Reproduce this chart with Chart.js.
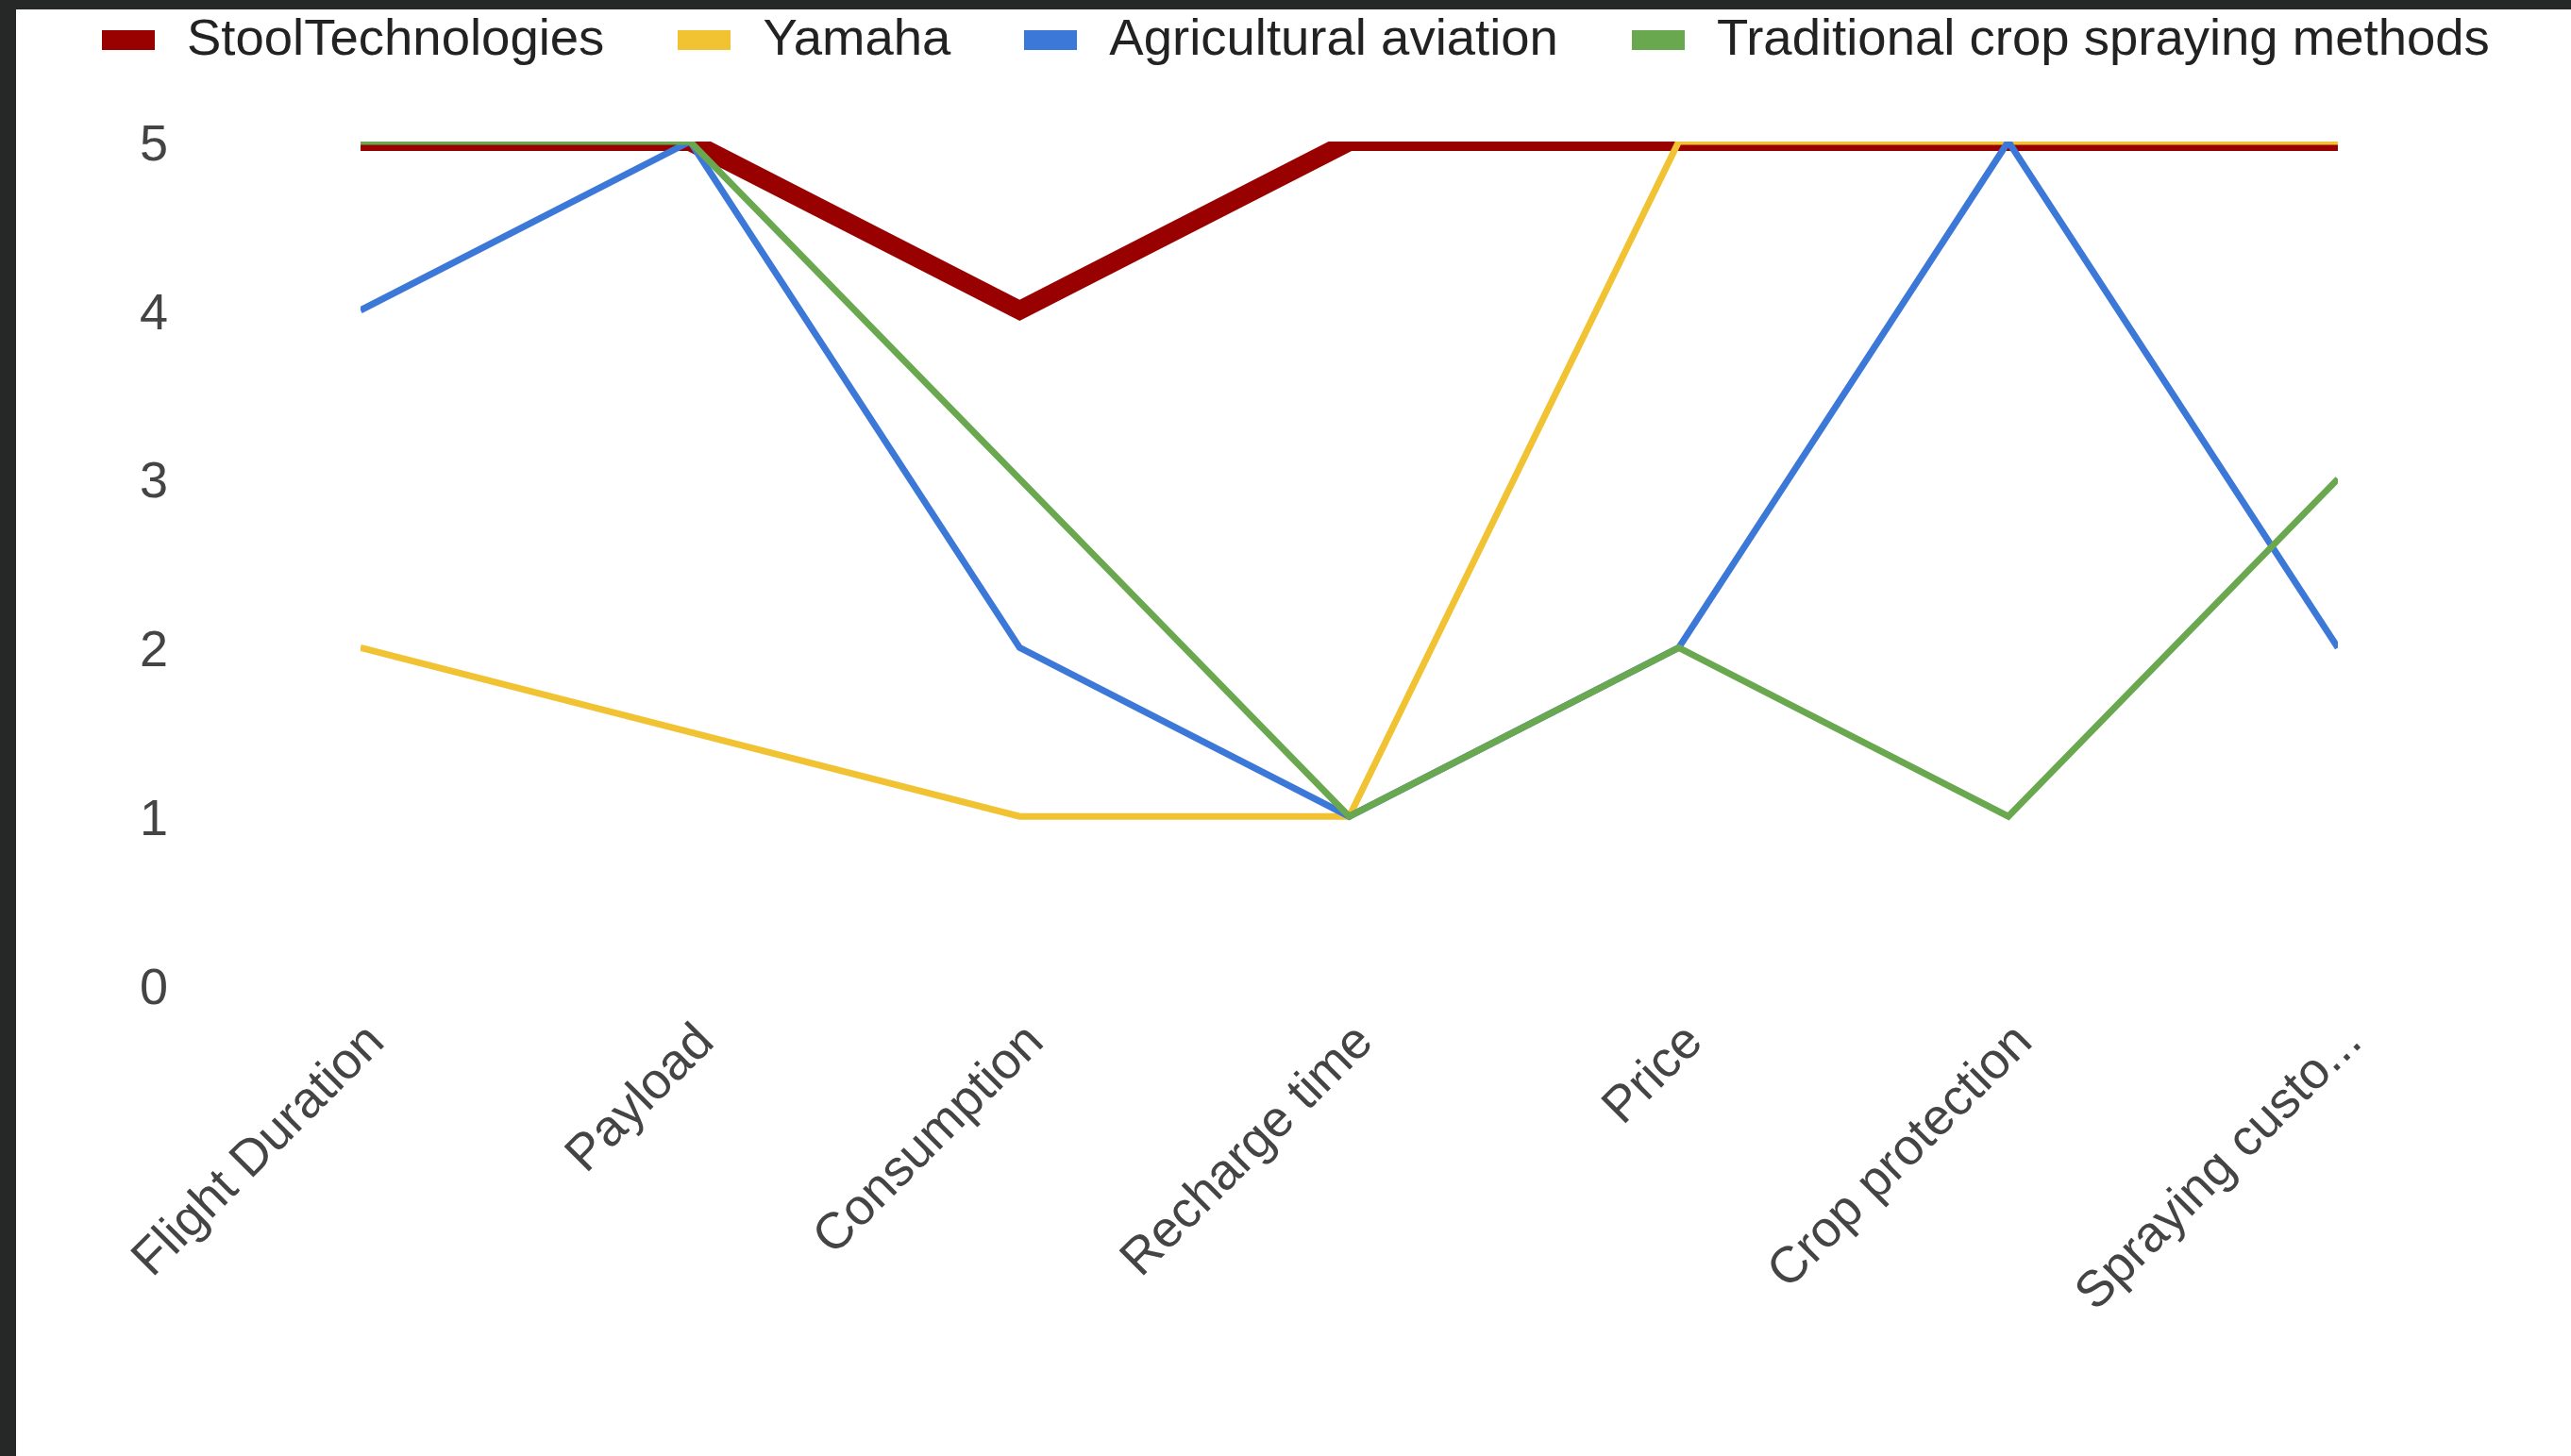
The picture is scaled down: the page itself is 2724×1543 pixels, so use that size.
<!DOCTYPE html>
<html>
<head>
<meta charset="utf-8">
<script src="https://cdn.jsdelivr.net/npm/chart.js@4.4.1/dist/chart.umd.min.js"></script>
<style>
    html, body { margin: 0; padding: 0; }
    body {
        width: 2724px;
        height: 1543px;
        background: #262727;
        overflow: hidden;
        position: relative;
        font-family: 'Liberation Sans', Arial, sans-serif;
    }
    .panel {
        position: absolute;
        left: 17px;
        top: 10px;
        width: 2707px;
        height: 1533px;
        background: #fff;
    }
    #scoreChart { position: absolute; left: 0; top: 0; }
    .legend {
        position: absolute;
        left: 91px;
        top: 0;
        height: 60px;
        display: flex;
        align-items: center;
    }
    .legend-item { display: flex; align-items: center; margin-right: 78px; }
    .legend-swatch { width: 56px; height: 21px; margin-right: 34px; position: relative; top: 2px; }
    .legend-text { font-size: 54.5px; line-height: 60px; color: #222; white-space: nowrap; }
</style>
</head>
<body>
<div class="panel">
    <canvas id="scoreChart" width="2707" height="1533"></canvas>
    <div class="legend" id="legend"></div>
</div>
<script>
// Data
const categories = ['Flight Duration', 'Payload', 'Consumption', 'Recharge time', 'Price', 'Crop protection', 'Spraying custo...'];
const seriesNames = ['StoolTechnologies', 'Yamaha', 'Agricultural aviation', 'Traditional crop spraying methods'];
const stoolValues = [5, 5, 4, 5, 5, 5, 5];
const yamahaValues = [2, 1.5, 1, 1, 5, 5, 5];
const aviationValues = [4, 5, 2, 1, 2, 5, 2];
const traditionalValues = [5, 5, 3, 1, 2, 1, 3];
const yTickValues = [0, 1, 2, 3, 4, 5];

const seriesColors = ['#990000', '#f1c232', '#3c78d8', '#6aa84f'];
const seriesWidths = [20, 7, 7, 7];

document.addEventListener('DOMContentLoaded', () => {
    // Legend (Google style, top row)
    const legend = document.getElementById('legend');
    seriesNames.forEach((name, i) => {
        const item = document.createElement('div');
        item.className = 'legend-item';
        const swatch = document.createElement('span');
        swatch.className = 'legend-swatch';
        swatch.style.background = seriesColors[i];
        const text = document.createElement('span');
        text.className = 'legend-text';
        text.textContent = name;
        item.appendChild(swatch);
        item.appendChild(text);
        legend.appendChild(item);
    });

    const allValues = [stoolValues, yamahaValues, aviationValues, traditionalValues];
    const datasets = allValues.map((values, i) => ({
        label: seriesNames[i],
        data: values,
        borderColor: seriesColors[i],
        backgroundColor: seriesColors[i],
        borderWidth: seriesWidths[i],
        pointRadius: 0,
        pointHoverRadius: 0,
        tension: 0,
        clip: 0,
        order: allValues.length - i // later series drawn on top
    }));

    const tickFont = { family: "'Liberation Sans', Arial, sans-serif", size: 54 };

    new Chart(document.getElementById('scoreChart').getContext('2d'), {
        type: 'line',
        data: { labels: categories, datasets: datasets },
        options: {
            responsive: false,
            animation: false,
            layout: { padding: { top: 140, right: 247, left: 131, bottom: 0 } },
            plugins: {
                legend: { display: false },
                tooltip: { enabled: false }
            },
            scales: {
                x: {
                    offset: false,
                    grid: { display: false, drawTicks: false },
                    border: { display: false },
                    ticks: {
                        color: '#444',
                        font: tickFont,
                        autoSkip: false,
                        minRotation: 45,
                        maxRotation: 45,
                        padding: 29,
                        labelOffset: 17
                    },
                    afterFit: axis => { axis.height = 499; }
                },
                y: {
                    min: 0,
                    max: 5,
                    grid: { display: false, drawTicks: false },
                    border: { display: false },
                    ticks: {
                        color: '#444',
                        font: tickFont,
                        padding: 0,
                        crossAlign: 'far',
                        labelOffset: 5
                    },
                    afterBuildTicks: axis => { axis.ticks = yTickValues.map(v => ({ value: v })); },
                    afterFit: axis => { axis.width = 234; }
                }
            }
        }
    });
});
</script>
</body>
</html>
